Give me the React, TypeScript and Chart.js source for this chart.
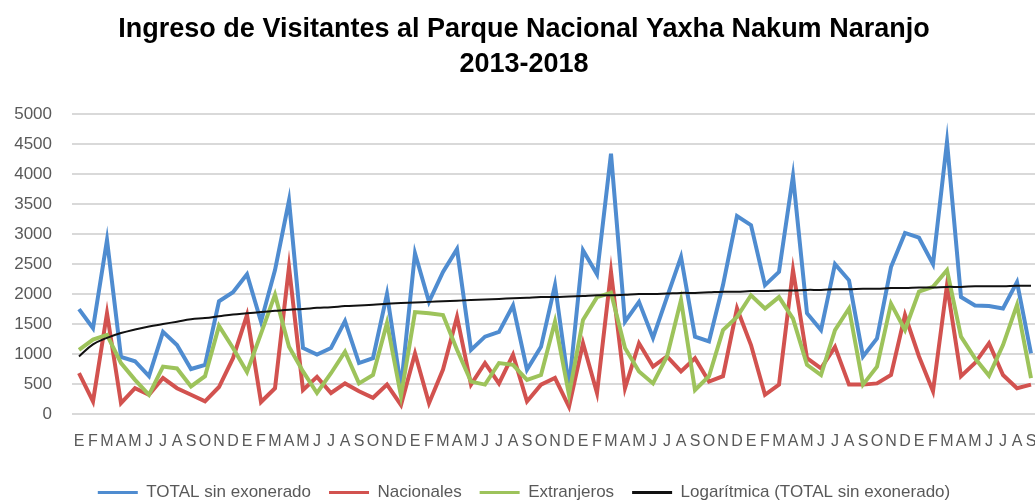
import React, { useEffect, useRef } from "react";
import { Chart, registerables } from "chart.js";

Chart.register(...registerables);

const monthInitials = ["E", "F", "M", "A", "M", "J", "J", "A", "S", "O", "N", "D"];
const years = [2013, 2014, 2015, 2016, 2017, 2018];
const monthsIn2018 = 9;

const labels: string[] = [];
years.forEach((y) => {
  const n = y === 2018 ? monthsIn2018 : 12;
  for (let m = 0; m < n; m++) labels.push(monthInitials[m]);
});

const totalSinExonerado = [
  1750, 1430, 2900, 950, 880, 630, 1370, 1150, 750, 820, 1880, 2030,
  2330, 1540, 2400, 3560, 1100, 990, 1100, 1550, 850, 930, 2000, 450,
  2680, 1870, 2370, 2750, 1070, 1290, 1370, 1810, 740, 1120, 2150, 450,
  2730, 2330, 4340, 1540, 1870, 1270, 1950, 2620, 1290, 1210, 2150, 3300,
  3150, 2150, 2370, 3970, 1680, 1400, 2500, 2230, 960, 1260, 2450, 3020,
  2940, 2500, 4540, 1950, 1810, 1800, 1760, 2200, 1010,
];

const nacionales = [
  680, 210, 1680, 180, 430, 320, 600, 430, 320, 210, 450, 930,
  1650, 200, 430, 2450, 400, 620, 350, 510, 380, 270, 490, 150,
  1010, 180, 740, 1620, 490, 850, 510, 990, 210, 490, 600, 120,
  1180, 350, 2370, 430, 1180, 790, 960, 710, 930, 540, 630, 1760,
  1150, 320, 490, 2400, 930, 760, 1120, 490, 490, 510, 650, 1650,
  960, 380, 2150, 630, 850, 1180, 650, 430, 490,
];

const extranjeros = [
  1070, 1240, 1320, 850, 570, 320, 790, 760, 460, 630, 1470, 1100,
  700, 1340, 1990, 1120, 710, 350, 680, 1040, 510, 650, 1520, 300,
  1700, 1680, 1650, 1070, 540, 490, 850, 820, 570, 650, 1540, 320,
  1570, 1950, 2020, 1100, 710, 510, 960, 1900, 400, 630, 1400, 1620,
  1980, 1760, 1950, 1590, 820, 650, 1400, 1760, 490, 790, 1840, 1400,
  2040, 2120, 2400, 1290, 930, 640, 1150, 1820, 600,
];

// Logarithmic trend line values
const logaritmica = [
  960, 1160, 1270, 1350, 1410, 1460, 1500, 1540, 1580, 1600, 1630, 1660,
  1680, 1700, 1720, 1740, 1750, 1770, 1780, 1800, 1810, 1820, 1840, 1850,
  1860, 1870, 1880, 1890, 1900, 1910, 1920, 1930, 1940, 1950, 1950, 1960,
  1970, 1980, 1980, 1990, 2000, 2000, 2010, 2020, 2020, 2030, 2040, 2040,
  2050, 2050, 2060, 2060, 2070, 2070, 2080, 2080, 2090, 2090, 2100, 2100,
  2110, 2110, 2120, 2120, 2130, 2130, 2130, 2140, 2140,
];

const yTicks = [0, 500, 1000, 1500, 2000, 2500, 3000, 3500, 4000, 4500, 5000];

const seriesNames = [
  "TOTAL sin exonerado",
  "Nacionales",
  "Extranjeros",
  "Logarítmica (TOTAL sin exonerado)",
];
const seriesColors = ["#4F8CD0", "#D2524F", "#9DC35B", "#111111"];

const CANVAS_W = 1062;
const CANVAS_H = 511;

export default function App() {
  const ref = useRef<HTMLCanvasElement | null>(null);

  useEffect(() => {
    if (!ref.current) return;
    const font = "'Liberation Sans', Arial, sans-serif";
    const chart = new Chart(ref.current, {
      type: "line",
      data: {
        labels,
        datasets: [
          {
            label: seriesNames[0],
            data: totalSinExonerado,
            borderColor: seriesColors[0],
            backgroundColor: seriesColors[0],
            borderWidth: 4,
            pointRadius: 0,
            tension: 0,
            order: 2,
          },
          {
            label: seriesNames[1],
            data: nacionales,
            borderColor: seriesColors[1],
            backgroundColor: seriesColors[1],
            borderWidth: 4,
            pointRadius: 0,
            tension: 0,
            order: 3,
          },
          {
            label: seriesNames[2],
            data: extranjeros,
            borderColor: seriesColors[2],
            backgroundColor: seriesColors[2],
            borderWidth: 4,
            pointRadius: 0,
            tension: 0,
            order: 1,
          },
          {
            label: seriesNames[3],
            data: logaritmica,
            borderColor: seriesColors[3],
            backgroundColor: seriesColors[3],
            borderWidth: 2,
            pointRadius: 0,
            tension: 0.4,
            order: 0,
          },
        ],
      },
      options: {
        responsive: false,
        animation: false,
        layout: { padding: { left: 10, right: 24, top: 0, bottom: 0 } },
        plugins: {
          title: {
            display: true,
            text: ["Ingreso de Visitantes al Parque Nacional Yaxha Nakum Naranjo", "2013-2018"],
            color: "#000000",
            font: { family: font, size: 27, weight: "bold", lineHeight: 1.3 },
            padding: { top: 12, bottom: 32 },
          },
          legend: {
            display: true,
            position: "bottom",
            labels: {
              color: "#595959",
              font: { family: font, size: 17 },
              boxWidth: 40,
              boxHeight: 3,
              padding: 18,
              sort: (a: any, b: any) => a.datasetIndex - b.datasetIndex,
              generateLabels: (c: any) => {
                const items = Chart.defaults.plugins.legend.labels.generateLabels(c);
                return items.map((it: any) => ({ ...it, lineWidth: 0 }));
              },
            },
          },
          tooltip: { enabled: false },
        },
        scales: {
          x: {
            offset: true,
            grid: { display: false, drawTicks: false },
            border: { display: false },
            ticks: {
              autoSkip: false,
              maxRotation: 0,
              minRotation: 0,
              color: "#595959",
              font: { family: font, size: 16 },
              padding: 18,
            },
            afterFit: (scale: any) => {
              scale.height = 52;
            },
          },
          y: {
            min: 0,
            max: 5000,
            afterBuildTicks: (scale: any) => {
              scale.ticks = yTicks.map((v) => ({ value: v }));
            },
            grid: { color: "#D9D9D9", lineWidth: 2, drawTicks: false },
            border: { display: false },
            ticks: {
              color: "#595959",
              font: { family: font, size: 17 },
              padding: 20,
              callback: (v: any) => String(v),
            },
            afterFit: (scale: any) => {
              scale.width = 62;
            },
          },
        },
      },
    });
    return () => chart.destroy();
  }, []);

  return (
    <div
      style={{
        position: "absolute",
        left: 0,
        top: 0,
        width: 1035,
        height: 500,
        overflow: "hidden",
        background: "#ffffff",
      }}
    >
      <canvas ref={ref} width={CANVAS_W} height={CANVAS_H} style={{ display: "block" }} />
    </div>
  );
}
